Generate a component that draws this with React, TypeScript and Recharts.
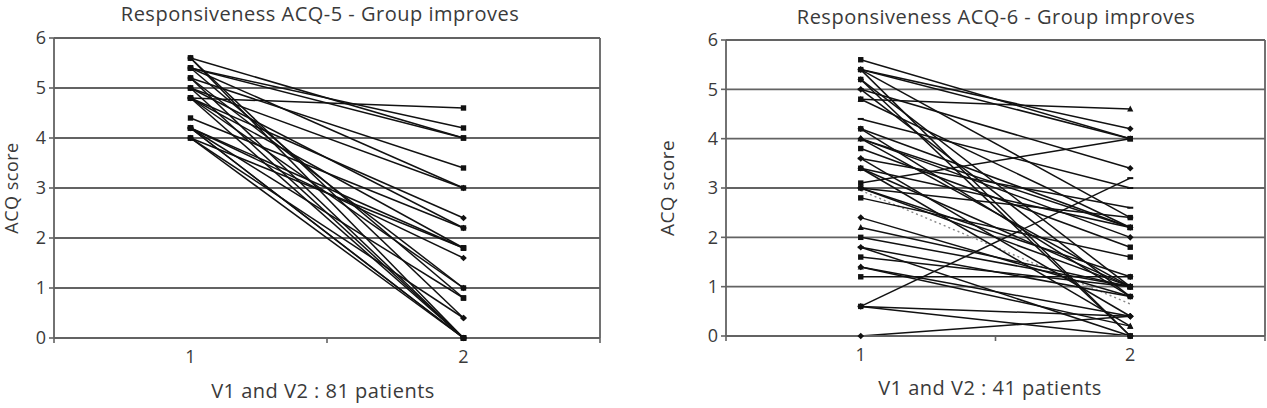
import { LineChart, Line, XAxis, YAxis, CartesianGrid, ReferenceLine } from 'recharts';

const VISITS = [1, 2];
const Y_TICKS = [0, 1, 2, 3, 4, 5, 6];
const X_TICKS = [0.5, 1, 1.5, 2, 2.5];

// ACQ-5: score at V1 and V2, one entry per patient line
const ACQ5_V1 = [5.6, 5.6, 5.6, 5.4, 5.4, 5.4, 5.4, 5.2, 5.2, 5.2, 5.0, 5.0, 5.0, 4.8, 4.8, 4.8, 4.8, 4.8, 4.4, 4.2, 4.2, 4.2, 4.2, 4.2, 4.0, 4.0, 4.0];
const ACQ5_V2 = [4.0, 0.0, 0.4, 4.2, 4.0, 3.0, 0.8, 3.4, 0.0, 1.0, 3.0, 2.2, 0.0, 4.6, 2.4, 1.8, 0.0, 1.0, 2.2, 1.8, 1.6, 0.8, 0.0, 0.0, 1.8, 0.0, 0.4];

// ACQ-6
const ACQ6_V1 = [5.6, 5.4, 5.4, 5.4, 5.4, 5.2, 5.2, 5.0, 4.8, 4.8, 4.4, 4.2, 4.2, 4.0, 4.0, 3.8, 3.6, 3.6, 3.4, 3.4, 3.4, 3.1, 3.0, 3.0, 2.8, 2.4, 2.2, 2.0, 1.8, 1.8, 1.6, 1.4, 1.4, 1.2, 0.6, 0.6, 0.6, 0.0, 4.0, 3.0, 5.0];
const ACQ6_V2 = [4.0, 4.2, 4.0, 2.4, 0.0, 1.0, 0.0, 3.4, 4.6, 2.2, 3.0, 2.2, 0.8, 2.0, 1.0, 1.8, 2.6, 0.4, 2.2, 1.0, 0.2, 4.0, 2.4, 1.2, 1.6, 0.8, 1.0, 1.0, 0.8, 0.0, 1.0, 0.4, 0.2, 1.2, 3.2, 0.4, 0.0, 0.4, 2.2, 1.0, 0.8];
const ACQ6_DOTTED = [2.95, 0.65];

const FONT = '"Open Sans", sans-serif';
const TEXT = '#3a3a3a';
const GRID = '#636363';

type Shape = 'square' | 'diamond' | 'triangle' | 'dash';
const LEFT_SHAPES: Shape[] = ['square', 'square', 'diamond'];
const RIGHT_SHAPES: Shape[] = ['square', 'diamond', 'triangle', 'square', 'dash', 'diamond'];

const buildRows = (v1: number[], v2: number[], dotted?: number[]) =>
    VISITS.map((visit, j) => {
        const row: Record<string, number> = { visit };
        (j === 0 ? v1 : v2).forEach((v, i) => (row['p' + i] = v));
        if (dotted) row.dotted = dotted[j];
        return row;
    });

const Marker = ({ cx, cy, shape }: { cx: number; cy: number; shape: Shape }) => {
    if (cx == null || cy == null) return null;
    const s = 2.7;
    if (shape === 'square') return <rect x={cx - s} y={cy - s} width={s * 2} height={s * 2} fill="#111" />;
    if (shape === 'diamond')
        return <polygon points={`${cx},${cy - 3.3} ${cx + 3.3},${cy} ${cx},${cy + 3.3} ${cx - 3.3},${cy}`} fill="#111" />;
    if (shape === 'triangle')
        return <polygon points={`${cx},${cy - 3.5} ${cx + 3.1},${cy + 2.5} ${cx - 3.1},${cy + 2.5}`} fill="#111" />;
    return <rect x={cx - 3} y={cy - 1} width={6} height={2} fill="#111" />;
};

const XTick = ({ x, y, payload }: any) => {
    const v = payload.value;
    if (Number.isInteger(v))
        return (
            <text x={x} y={y + 25} textAnchor="middle" fill={TEXT} fontSize={18} fontFamily={FONT}>
                {v}
            </text>
        );
    return <line x1={x} x2={x} y1={y} y2={y + 5} stroke={GRID} strokeWidth={1.6} />;
};

type PanelProps = {
    left: number;
    width: number;
    yWidth: number;
    margin: { top: number; right: number; bottom: number };
    rows: Record<string, number>[];
    count: number;
    shapes: Shape[];
    withDotted?: boolean;
};

function Panel({ left, width, yWidth, margin, rows, count, shapes, withDotted }: PanelProps) {
    const keys = Array.from({ length: count }, (_, i) => 'p' + i);
    return (
        <div style={{ position: 'absolute', left, top: 0 }}>
            <LineChart width={width} height={408} data={rows} margin={{ ...margin, left: 0 }}>
                <CartesianGrid vertical={false} stroke={GRID} strokeWidth={1.8} />
                <XAxis
                    dataKey="visit"
                    type="number"
                    domain={[0.5, 2.5]}
                    ticks={X_TICKS}
                    interval={0}
                    tickSize={0}
                    tickMargin={0}
                    height={30}
                    tick={<XTick />}
                    axisLine={{ stroke: GRID, strokeWidth: 1.8 }}
                />
                <YAxis
                    domain={[0, 6]}
                    ticks={Y_TICKS}
                    width={yWidth}
                    tickSize={5}
                    tickMargin={3}
                    tickLine={{ stroke: GRID, strokeWidth: 1.6 }}
                    axisLine={{ stroke: GRID, strokeWidth: 1.8 }}
                    tick={{ fill: TEXT, fontSize: 18, fontFamily: FONT }}
                />
                <ReferenceLine x={2.5} stroke={GRID} strokeWidth={1.8} />
                {withDotted && (
                    <Line
                        dataKey="dotted"
                        stroke="#888"
                        strokeWidth={1.4}
                        strokeDasharray="2 3"
                        dot={false}
                        isAnimationActive={false}
                    />
                )}
                {keys.map((k, i) => (
                    <Line
                        key={k}
                        dataKey={k}
                        stroke="#111"
                        strokeWidth={1.5}
                        isAnimationActive={false}
                        dot={(p: any) => (
                            <Marker key={`${k}-${p.index}`} cx={p.cx} cy={p.cy} shape={shapes[i % shapes.length]} />
                        )}
                    />
                ))}
            </LineChart>
        </div>
    );
}

const Label = ({ x, y, size, rotate, children }: any) => (
    <div
        style={{
            position: 'absolute',
            left: x,
            top: y,
            transform: `translate(-50%, -50%)${rotate ? ' rotate(-90deg)' : ''}`,
            whiteSpace: 'nowrap',
            fontFamily: FONT,
            fontSize: size,
            letterSpacing: 0.5,
            color: TEXT,
            lineHeight: 1,
        }}
    >
        {children}
    </div>
);

export default function App() {
    return (
        <div style={{ position: 'absolute', left: 0, top: 0, width: 1267, height: 408, background: '#fff', overflow: 'hidden' }}>
            <Panel
                left={0}
                width={620}
                yWidth={54}
                margin={{ top: 38, right: 20, bottom: 40 }}
                rows={buildRows(ACQ5_V1, ACQ5_V2)}
                count={ACQ5_V1.length}
                shapes={LEFT_SHAPES}
            />
            <Panel
                left={640}
                width={627}
                yWidth={86}
                margin={{ top: 40, right: 2, bottom: 42 }}
                rows={buildRows(ACQ6_V1, ACQ6_V2, ACQ6_DOTTED)}
                count={ACQ6_V1.length}
                shapes={RIGHT_SHAPES}
                withDotted
            />
            <Label x={320} y={14} size={20}>Responsiveness ACQ-5 - Group improves</Label>
            <Label x={996} y={17} size={20}>Responsiveness ACQ-6 - Group improves</Label>
            <Label x={323} y={391} size={20}>V1 and V2 : 81 patients</Label>
            <Label x={990} y={388} size={20}>V1 and V2 : 41 patients</Label>
            <Label x={11} y={188} size={18} rotate>ACQ score</Label>
            <Label x={667} y={188} size={19} rotate>ACQ score</Label>
        </div>
    );
}
